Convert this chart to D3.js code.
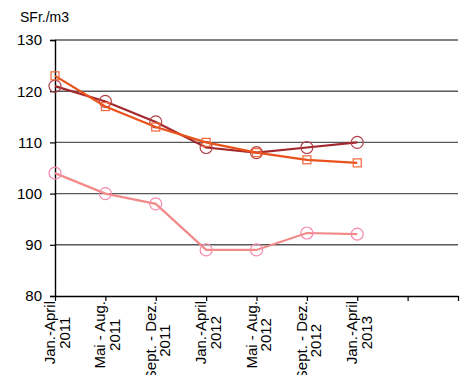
<!DOCTYPE html>
<html>
<head>
<meta charset="utf-8">
<script src="https://cdn.jsdelivr.net/npm/d3@7"></script>
<style>
  body { margin: 0; background: #fff; }
  text { font-family: "Liberation Sans", Arial, sans-serif; fill: #000; }
</style>
</head>
<body>
<div id="chart"></div>
<script>
// Kategorien (zweizeilig)
var categories = [
  ["Jan.-April", "2011"],
  ["Mai - Aug.", "2011"],
  ["Sept. - Dez.", "2011"],
  ["Jan.-April", "2012"],
  ["Mai - Aug.", "2012"],
  ["Sept. - Dez.", "2012"],
  ["Jan.-April", "2013"]
];
var slots = 9; // Achse hat 9 Positionen, nur 7 belegt

var seriesDark = [121, 118, 114, 109, 108, 109, 110];
var seriesOrange = [123, 117, 113, 110, 108, 106.6, 106];
var seriesPink = [104, 100, 98, 89, 89, 92.3, 92.1];

var yTicks = [80, 90, 100, 110, 120, 130];
var unitLabel = "SFr./m3";

var width = 467;
var height = 375;
var margin = { top: 40, right: 9, bottom: 79, left: 55 };

var svg = d3.select("#chart").append("svg")
  .attr("width", width)
  .attr("height", height);

var xScale = d3.scaleLinear()
  .domain([0, slots - 1])
  .range([margin.left, width - margin.right]);

var yScale = d3.scaleLinear()
  .domain([80, 130])
  .range([height - margin.bottom, margin.top]);

// Gitterlinien
svg.append("g")
  .selectAll("line")
  .data(yTicks.slice(1))
  .enter()
  .append("line")
  .attr("x1", margin.left)
  .attr("x2", width - margin.right)
  .attr("y1", function(d) { return yScale(d); })
  .attr("y2", function(d) { return yScale(d); })
  .attr("stroke", "#585858")
  .attr("stroke-width", 1.4);

// y-Achse
var axisy = d3.axisLeft(yScale).tickValues(yTicks).tickSize(5).tickPadding(8);
var gy = svg.append("g")
  .attr("transform", "translate(" + margin.left + ",0)")
  .call(axisy);
gy.select(".domain").attr("stroke", "#000").attr("stroke-width", 1.4);
gy.selectAll(".tick line").attr("stroke", "#000").attr("stroke-width", 1.2);
gy.selectAll(".tick text")
  .attr("font-size", "15px")
  .attr("font-family", "Lato, sans-serif")
  .attr("fill", "#000");

// x-Achse
var axisx = d3.axisBottom(xScale)
  .tickValues(d3.range(slots))
  .tickSize(5)
  .tickSizeOuter(0)
  .tickFormat("");
var gx = svg.append("g")
  .attr("transform", "translate(0," + (height - margin.bottom) + ")")
  .call(axisx);
gx.select(".domain").attr("stroke", "#000").attr("stroke-width", 1.6);
gx.selectAll(".tick line").attr("stroke", "#000").attr("stroke-width", 1.2);

// x-Beschriftungen, gedreht
var labelTop = height - margin.bottom + 5;
categories.forEach(function(lines, i) {
  var g = svg.append("g")
    .attr("transform", "translate(" + xScale(i) + "," + labelTop + ") rotate(-90)");
  var texts = lines.map(function(t, j) {
    return g.append("text")
      .attr("y", j * 14.5)
      .attr("font-size", "15px")
      .attr("text-anchor", "middle")
      .text(t);
  });
  var w = d3.max(texts, function(t) { return t.node().getComputedTextLength(); });
  texts.forEach(function(t) { t.attr("x", -w / 2); });
});

svg.append("text")
  .attr("x", 20)
  .attr("y", 22)
  .attr("font-size", "14px")
  .attr("font-family", "Lato, sans-serif")
  .text(unitLabel);

// Linien
function drawSeries(values, lineColor, markColor, shape) {
  var line = d3.line()
    .x(function(d, i) { return xScale(i); })
    .y(function(d) { return yScale(d); });

  svg.append("path")
    .datum(values)
    .attr("fill", "none")
    .attr("stroke", lineColor)
    .attr("stroke-width", 2.2)
    .attr("d", line);

  var marks = svg.append("g");
  if (shape === "circle") {
    marks.selectAll("circle")
      .data(values)
      .enter()
      .append("circle")
      .attr("cx", function(d, i) { return xScale(i); })
      .attr("cy", function(d) { return yScale(d); })
      .attr("r", 6)
      .attr("fill", "none")
      .attr("stroke", markColor)
      .attr("stroke-width", 1.2);
  } else {
    marks.selectAll("rect")
      .data(values)
      .enter()
      .append("rect")
      .attr("x", function(d, i) { return xScale(i) - 4; })
      .attr("y", function(d) { return yScale(d) - 4; })
      .attr("width", 8)
      .attr("height", 8)
      .attr("fill", "none")
      .attr("stroke", markColor)
      .attr("stroke-width", 1.2);
  }
}

drawSeries(seriesPink, "#f28a8a", "#f48aae", "circle");
drawSeries(seriesDark, "#a3282e", "#b0404a", "circle");
drawSeries(seriesOrange, "#e9521a", "#f0663a", "square");
</script>
</body>
</html>
